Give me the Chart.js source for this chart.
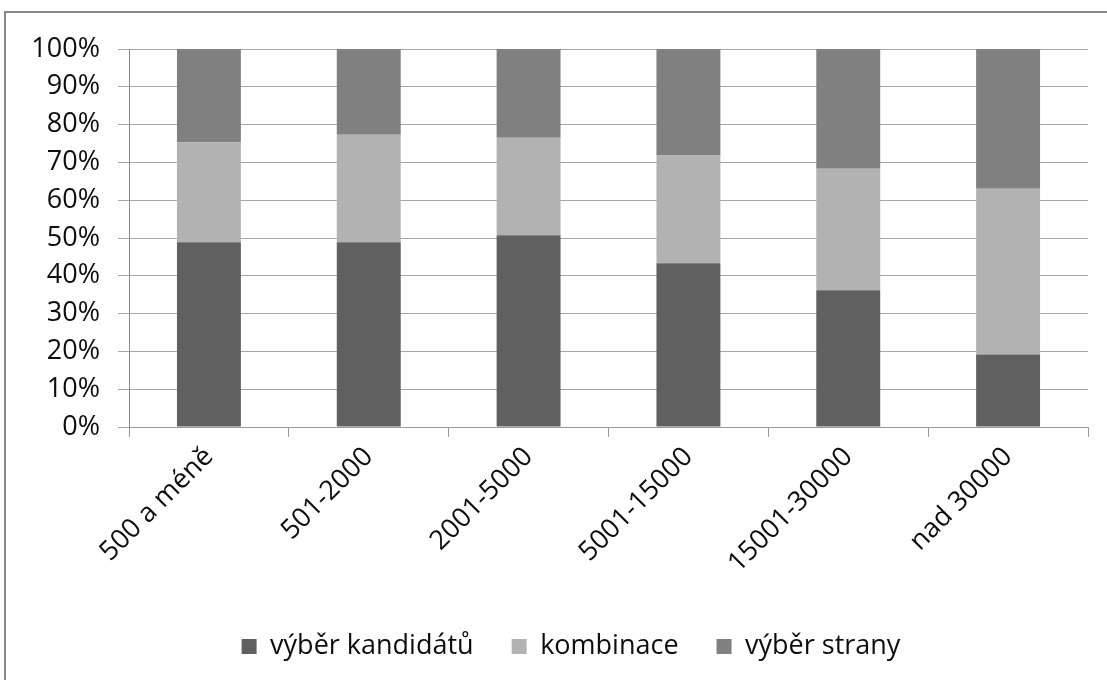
<!DOCTYPE html>
<html>
<head>
<meta charset="utf-8">
<script src="https://cdn.jsdelivr.net/npm/chart.js@4/dist/chart.umd.min.js"></script>
<style>
  html, body { margin: 0; padding: 0; background: #fff; overflow: hidden; }
  #frame {
    position: absolute; left: 4px; top: 11px;
    width: 1200px; height: 800px;
    border: 2px solid #8a8a8a;
  }
  #wrap { position: absolute; left: 0; top: 0; width: 1107px; height: 680px; }
</style>
</head>
<body>
<div id="frame"></div>
<div id="wrap"><canvas id="chart" width="1107" height="680"></canvas></div>
<script>
// categories (velikost obce) and shares in percent
const categories = ['500 a méně', '501-2000', '2001-5000', '5001-15000', '15001-30000', 'nad 30000'];
const vyberKandidatu = [48.9, 48.9, 50.7, 43.3, 36.2, 19.2];
const kombinace = [26.4, 28.4, 25.8, 28.5, 32.1, 43.8];
const vyberStrany = [24.7, 22.7, 23.5, 28.2, 31.7, 37.0];
const yTicks = [0, 10, 20, 30, 40, 50, 60, 70, 80, 90, 100];

const font = { family: '"Open Sans", "Liberation Sans", sans-serif', size: 27 };
const padLeft = 28;

// nudge the legend a bit to the right, like in the original
const legendShift = {
  id: 'legendShift',
  afterLayout(chart) {
    chart.legend.left += 13;
    chart.legend.right += 13;
  }
};

document.addEventListener('DOMContentLoaded', () => {
  const ctx = document.getElementById('chart').getContext('2d');
  new Chart(ctx, {
    type: 'bar',
    data: {
      labels: categories,
      datasets: [
        { label: 'výběr kandidátů', data: vyberKandidatu, backgroundColor: '#606060' },
        { label: 'kombinace', data: kombinace, backgroundColor: '#b2b2b2' },
        { label: 'výběr strany', data: vyberStrany, backgroundColor: '#808080' }
      ]
    },
    options: {
      responsive: false,
      animation: false,
      devicePixelRatio: 1,
      datasets: { bar: { categoryPercentage: 1, barPercentage: 0.4, borderWidth: 0 } },
      layout: { padding: { left: padLeft, right: 19, top: 49, bottom: 10 } },
      scales: {
        x: {
          stacked: true,
          grid: { offset: true, drawOnChartArea: false, drawTicks: true, tickLength: 10, color: '#999', lineWidth: 1 },
          border: { display: true, color: '#999', width: 1 },
          ticks: { autoSkip: false, minRotation: 45, maxRotation: 45, padding: 4, color: '#0d0d0d', font: font },
          afterFit: (scale) => { scale.height = 168; }
        },
        y: {
          stacked: true,
          min: 0,
          max: 100,
          afterBuildTicks: (scale) => { scale.ticks = yTicks.map(v => ({ value: v })); },
          grid: { color: '#a6a6a6', lineWidth: 1, tickLength: 11 },
          border: { display: true, color: '#888', width: 1 },
          ticks: { padding: 18, color: '#0d0d0d', font: font, callback: (v) => v + '%' },
          afterFit: (scale) => { scale.width = 129 - padLeft; }
        }
      },
      plugins: {
        legend: {
          position: 'bottom',
          labels: { boxWidth: 15, boxHeight: 15, padding: 38, color: '#0d0d0d', font: font }
        },
        title: { display: false },
        tooltip: { enabled: false }
      }
    },
    plugins: [legendShift]
  });
});
</script>
</body>
</html>
